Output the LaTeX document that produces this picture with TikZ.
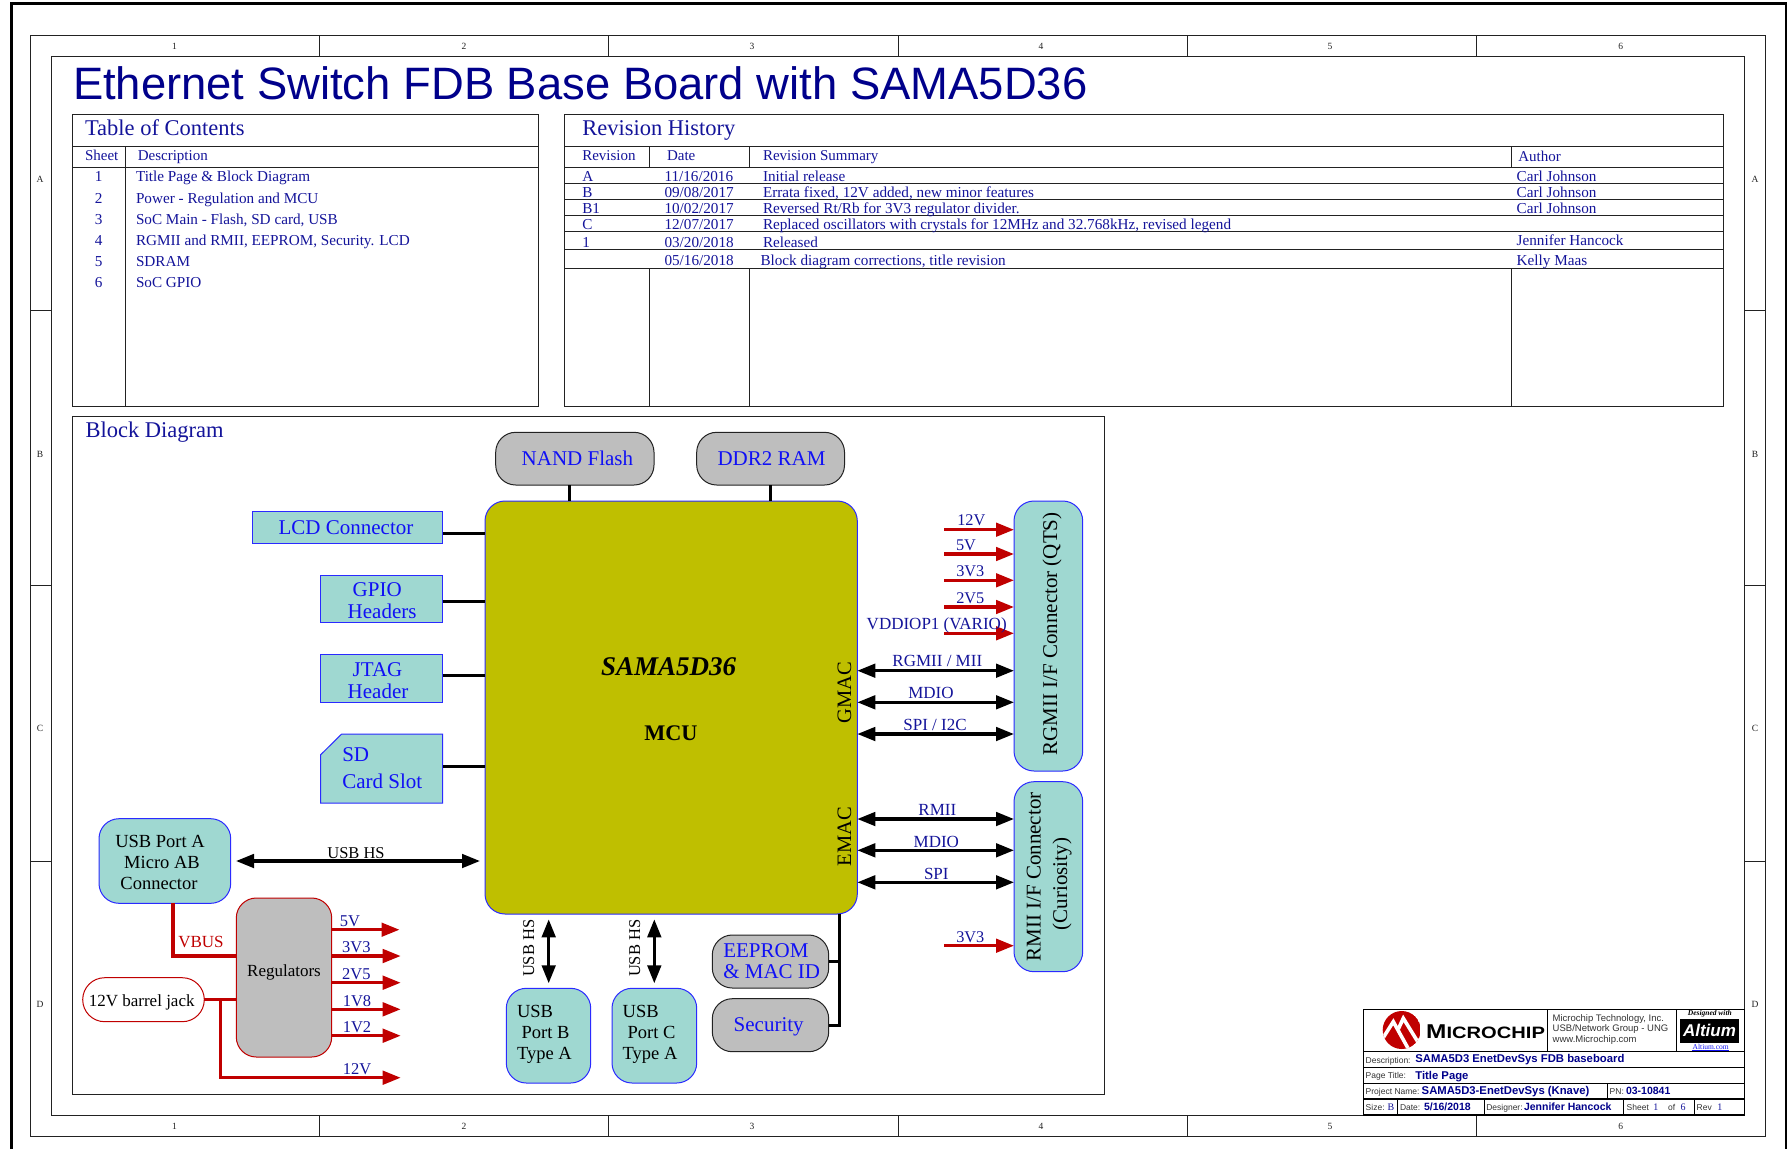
\documentclass[tikz,border=0pt]{standalone}
\usepackage{fontspec}
\setmainfont{Liberation Serif}
\newfontfamily\arialf{Liberation Sans}
\usetikzlibrary{arrows.meta,calc}
\definecolor{navyt}{HTML}{00008B}
\definecolor{tbl}{HTML}{14149A}
\definecolor{bluet}{HTML}{1010F5}
\definecolor{bord}{HTML}{2A2AFF}
\definecolor{teal}{HTML}{9FD8D1}
\definecolor{olive}{HTML}{BFBF00}
\definecolor{gry}{HTML}{BEBEBE}
\definecolor{redl}{HTML}{C00000}
\definecolor{dk}{HTML}{222222}
\definecolor{lbl}{HTML}{333333}
\newcounter{tn}
\newcommand{\fs}[1]{\fontsize{#1}{#1}\selectfont}
\newcommand{\tl}[4][]{\stepcounter{tn}\node[anchor=base west,inner sep=0pt,outer sep=0pt,#1] (t\arabic{tn}) at (#2,#3) {#4};}
\newcommand{\tc}[4][]{\stepcounter{tn}\node[anchor=base,inner sep=0pt,outer sep=0pt,#1] (t\arabic{tn}) at (#2,#3) {#4};}
\newcommand{\tr}[4][]{\stepcounter{tn}\node[anchor=base,rotate=90,inner sep=0pt,outer sep=0pt,#1] (t\arabic{tn}) at (#2,#3) {#4};}
% block by corners: style, name, x1,y1,x2,y2
\newcommand{\blk}[6]{\node[#1,anchor=north west,minimum width={(#5-#3)*1pt},minimum height={(#6-#4)*1pt}] (#2) at (#3,#4) {};}
\tikzset{
  thinl/.style={draw=dk,line width=1pt},
  boxbase/.style={inner sep=0pt,outer sep=0pt,line width=1pt},
  tealr/.style={boxbase,draw=bord,fill=teal,rounded corners=20pt},
  tealq/.style={boxbase,draw=bord,fill=teal},
  greyr/.style={boxbase,draw=dk,fill=gry,rounded corners=20pt},
  regbox/.style={boxbase,draw=redl,fill=gry,rounded corners=20pt},
  jackbox/.style={boxbase,draw=redl,fill=white,rounded corners=22pt},
  mcubox/.style={boxbase,draw=bord,fill=olive,rounded corners=20pt},
  blkl/.style={draw=black,line width=3pt},
  redp/.style={draw=redl,line width=3.2pt},
  pwr/.style={draw=redl,line width=3.2pt,-{Triangle[length=18pt,width=13.5pt]}},
  sig/.style={draw=black,line width=3.2pt,{Triangle[length=18pt,width=13.5pt]}-{Triangle[length=18pt,width=13.5pt]}},
  zn/.style={font=\fs{9.5},text=dk},
  bigt/.style={font=\fs{22.5},text=tbl},
  hdr/.style={font=\fs{15},text=tbl},
  row/.style={font=\fs{15.2},text=tbl},
  bt/.style={font=\fs{21},text=bluet},
  kt/.style={font=\fs{18.5},text=black},
  st/.style={font=\fs{16.3},text=tbl},
  sg/.style={font=\fs{17},text=tbl},
  vt/.style={font=\fs{16.5},text=tbl},
  hs/.style={font=\fs{16.5},text=black},
  rt/.style={font=\fs{21},text=black},
  smalll/.style={font=\arialf\fs{8.5},text=lbl},
  boldl/.style={font=\arialf\bfseries\fs{11.3},text=navyt},
  cot/.style={font=\arialf\fs{9.5},text=lbl},
  sern/.style={font=\fs{10},text=tbl}
}
\begin{document}
\begin{tikzpicture}[x=1pt,y=-1pt]
\useasboundingbox (0,0) rectangle (1787,1149);
\fill[white] (0,0) rectangle (1787,1149);
% sheet frames
\draw[black,line width=3pt] (11,1149) -- (11,3.5) -- (1786,3.5) -- (1786,1149);
\draw[thinl] (30.5,35.5) rectangle (1765,1136);
\draw[thinl] (51,56.5) rectangle (1744,1115);
\foreach \xx in {319,608.5,898,1187,1476}{
  \draw[thinl] (\xx,35.5) -- (\xx,56.5);
  \draw[thinl] (\xx,1115) -- (\xx,1136);
}
\foreach \yy in {310.5,585,861.5}{
  \draw[thinl] (30.5,\yy) -- (51,\yy);
  \draw[thinl] (1744,\yy) -- (1765,\yy);
}
\foreach \xx/\lab in {174.5/1,464/2,752/3,1041/4,1330/5,1620.7/6}{
  \tc[zn]{\xx}{49}{\lab}
  \tc[zn]{\xx}{1129}{\lab}
}
\foreach \yy/\lab in {182.5/A,457/B,731.5/C,1007.5/D}{
  \tc[zn]{40}{\yy}{\lab}
  \tc[zn]{1755}{\yy}{\lab}
}
% title
\tl[font=\arialf\fs{45.4},text=navyt]{73}{99}{Ethernet Switch FDB Base Board with SAMA5D36}
% table of contents
\draw[thinl] (72.3,114.7) rectangle (538,406);
\draw[thinl] (72.3,146.3) -- (538,146.3) (72.3,167.3) -- (538,167.3) (125,146.3) -- (125,406);
\tl[bigt]{85}{135}{Table of Contents}
\tl[hdr]{85}{160.7}{Sheet}
\tl[hdr]{137.8}{160.7}{Description}
\foreach \yy/\nn/\desc in {181.7/1/Title Page \& Block Diagram,203.3/2/Power - Regulation and MCU,224/3/{SoC Main - Flash, SD card, USB},245/4/{RGMII and RMII, EEPROM, Security. LCD},266/5/SDRAM,287.3/6/SoC GPIO}{
  \tc[row]{98.7}{\yy}{\nn}
  \tl[row]{136}{\yy}{\desc}
}
% revision history
\draw[thinl] (564.5,114.7) rectangle (1723,406);
\foreach \yy in {146.3,167.3,183.3,199.3,215.3,231,249,268}{
  \draw[thinl] (564.5,\yy) -- (1723,\yy);
}
\foreach \xx in {649.3,749.3,1511.7}{
  \draw[thinl] (\xx,146.3) -- (\xx,167.3);
  \draw[thinl] (\xx,268) -- (\xx,406);
}
\tl[bigt]{582.3}{135}{Revision History}
\tl[hdr]{582.3}{160.7}{Revision}
\tl[hdr]{667}{160.7}{Date}
\tl[hdr]{763}{160.7}{Revision Summary}
\tl[hdr]{1518.3}{161}{Author}
\foreach \yy/\rv/\dt/\sm in {181.7/A/11\slash 16\slash 2016/Initial release,197.3/B/09\slash 08\slash 2017/{Errata fixed, 12V added, new minor features},213.3/B1/10\slash 02\slash 2017/Reversed Rt\slash Rb for 3V3 regulator divider.,229/C/12\slash 07\slash 2017/{Replaced oscillators with crystals for 12MHz and 32.768kHz, revised legend},247/1/03\slash 20\slash 2018/Released}{
  \tl[row]{582.3}{\yy}{\rv}
  \tl[row]{664.5}{\yy}{\dt}
  \tl[row]{763}{\yy}{\sm}
}
\tl[row]{664.5}{265}{05\slash 16\slash 2018}
\tl[row]{760.5}{265}{Block diagram corrections, title revision}
\foreach \yy/\au in {181/Carl Johnson,197/Carl Johnson,213/Carl Johnson,245/Jennifer Hancock,265/Kelly Maas}{
  \tl[row]{1516.7}{\yy}{\au}
}
% block diagram frame
\draw[thinl] (72.3,416.3) rectangle (1104.4,1094.3);
\tl[bigt]{85.5}{437.5}{Block Diagram}
% blocks
\blk{mcubox}{mcu}{485}{501}{857.3}{914}
\blk{greyr}{nand}{495.7}{432.3}{654}{485}
\blk{greyr}{ddr}{696.7}{432.3}{844.5}{485}
\blk{tealq}{lcd}{252}{511.7}{442.7}{543.3}
\blk{tealq}{gpio}{320.7}{575.3}{442.7}{622.7}
\blk{tealq}{jtag}{320.7}{654.7}{442.7}{702.3}
\draw[bord,line width=1pt,fill=teal] (341.7,734) -- (442.7,734) -- (442.7,803) -- (320.7,803) -- (320.7,754.7) -- cycle;
\coordinate (sd) at (442.7,766);
\blk{tealr}{rgbox}{1014}{501}{1082.7}{771}
\blk{tealr}{rmbox}{1014}{781.7}{1082.7}{971.7}
\blk{tealr}{usba}{99}{818.7}{230.7}{903.3}
\blk{regbox}{reg}{236.3}{898}{331.7}{1057}
\blk{jackbox}{jack}{82.7}{977.7}{204.3}{1021.7}
\blk{tealr}{usbb}{506.3}{988.3}{590.7}{1083}
\blk{tealr}{usbc}{612}{988.3}{696.7}{1083}
\blk{greyr}{eep}{712.3}{935}{828.7}{988}
\blk{greyr}{sec}{712.3}{998.7}{828.7}{1051.7}
% black connectors to MCU
\draw[blkl] (nand.south -| 569.7,0) -- (569.7,0 |- mcu.north);
\draw[blkl] (770.5,0 |- ddr.south) -- (770.5,0 |- mcu.north);
\draw[blkl] (lcd.east |- 0,533) -- (mcu.west |- 0,533);
\draw[blkl] (gpio.east |- 0,601.7) -- (mcu.west |- 0,601.7);
\draw[blkl] (jtag.east |- 0,675.7) -- (mcu.west |- 0,675.7);
\draw[blkl] (sd) -- (mcu.west |- sd);
\draw[blkl] (839.7,0 |- mcu.south) -- (839.7,0 |- sec.east) -- (sec.east);
\draw[blkl] (eep.east) -- (839.7,0 |- eep.east);
% signal arrows
\foreach \yy in {670.7,702.3,734}{
  \draw[sig] (mcu.east |- 0,\yy) -- (rgbox.west |- 0,\yy);
}
\foreach \yy in {819,850.3,882.3}{
  \draw[sig] (mcu.east |- 0,\yy) -- (rmbox.west |- 0,\yy);
}
\draw[sig] (236,861) -- (480,861);
\draw[sig] (548.7,919.3) -- (548.7,983.3);
\draw[sig] (654.3,919.3) -- (654.3,983.3);
% power
\foreach \yy in {529.7,554,580.3,607,633.3}{
  \draw[pwr] (944.3,\yy) -- (rgbox.west |- 0,\yy);
}
\draw[pwr] (944.3,945.7) -- (rmbox.west |- 0,945.7);
\draw[redp] (173,0 |- usba.south) -- (173,956) -- (reg.west |- 0,956);
\draw[redp] (jack.east) -- (reg.west |- jack.east);
\draw[redp] (220.7,999.7) -- (220.7,1077.7) -- (300,1077.7);
\draw[pwr] (300,1077.7) -- (400.7,1077.7);
\draw[pwr] (reg.east |- 0,929.7) -- (399.5,929.7);
\foreach \yy in {956,982.7,1009.3,1035.7}{
  \draw[pwr] (reg.east |- 0,\yy) -- (400.7,\yy);
}
% block texts
\tl[bt]{521.7}{465}{NAND Flash}
\tc[bt]{771.5}{465}{DDR2 RAM}
\tc[bt]{346}{534}{LCD Connector}
\tl[bt]{352.7}{596.7}{GPIO}
\tl[bt]{347.7}{618.3}{Headers}
\tl[bt]{352.7}{676.7}{JTAG}
\tl[bt]{347.7}{698}{Header}
\tl[bt]{342.3}{761}{SD}
\tl[bt]{342.3}{788}{Card Slot}
\tl[font=\bfseries\itshape\fs{27},text=black]{601}{675}{SAMA5D36}
\tl[font=\bfseries\fs{22.3},text=black]{644.3}{740}{MCU}
\tr[font=\fs{20.5},text=black]{851}{692.3}{GMAC}
\tr[font=\fs{20.5},text=black]{851}{836.7}{EMAC}
\tr[rt]{1057}{634}{RGMII I/F Connector (QTS)}
\tr[rt]{1040.7}{877}{RMII I/F Connector}
\tr[rt]{1067}{884}{(Curiosity)}
\tc[kt]{160}{847.3}{USB Port A}
\tc[kt]{162}{868.3}{Micro AB}
\tc[kt]{159}{889.3}{Connector}
\tc[font=\fs{17},text=black]{284}{976.7}{Regulators}
\tc[font=\fs{17},text=black]{141.7}{1006}{12V barrel jack}
\tl[font=\fs{17},text=redl]{178.3}{947.7}{VBUS}
\tl[kt]{517}{1017.3}{USB}
\tl[kt]{521.7}{1038.3}{Port B}
\tl[kt]{517}{1059.3}{Type A}
\tl[kt]{622.7}{1017.3}{USB}
\tl[kt]{627.7}{1038.3}{Port C}
\tl[kt]{622.7}{1059.3}{Type A}
\tl[bt]{723.3}{957.3}{EEPROM}
\tl[bt]{723.3}{978.3}{\& MAC ID}
\tc[bt]{768.7}{1031.5}{Security}
\tc[hs]{356}{858.3}{USB HS}
\tr[hs]{534}{948.3}{USB HS}
\tr[hs]{640}{948.3}{USB HS}
% connector labels
\tc[st]{971.3}{525.7}{12V}
\tc[st]{966}{550.7}{5V}
\tc[st]{970.3}{576.7}{3V3}
\tc[st]{970.3}{603.3}{2V5}
\tc[sg]{936.7}{629.3}{VDDIOP1 (VARIO)}
\tc[sg]{937.3}{666.7}{RGMII / MII}
\tc[sg]{931}{698.3}{MDIO}
\tc[sg]{935}{730.7}{SPI / I2C}
\tc[sg]{937.3}{815}{RMII}
\tc[sg]{936.3}{847}{MDIO}
\tc[sg]{936.3}{879}{SPI}
\tc[st]{970.3}{942}{3V3}
\tc[vt]{350}{926}{5V}
\tc[vt]{356.3}{952.7}{3V3}
\tc[vt]{356.3}{979}{2V5}
\tc[vt]{357}{1006}{1V8}
\tc[vt]{357}{1032.3}{1V2}
\tc[vt]{357}{1074.7}{12V}
% title block
\fill[white] (1363.3,1009.3) rectangle (1744.3,1115);
\draw[black,line width=1.2pt] (1363.3,1009.3) rectangle (1744.3,1115);
\draw[black,line width=1.2pt] (1363.3,1051.7) -- (1744.3,1051.7) (1363.3,1067.3) -- (1744.3,1067.3) (1363.3,1083.3) -- (1744.3,1083.3) (1363.3,1099) -- (1744.3,1099);
\draw[black,line width=1pt] (1547.7,1009.3) -- (1547.7,1051.7) (1676,1009.3) -- (1676,1051.7) (1607,1083.3) -- (1607,1099) (1397.3,1099) -- (1397.3,1115) (1484,1099) -- (1484,1115) (1623.7,1099) -- (1623.7,1115) (1694.3,1099) -- (1694.3,1115);
% logo
\begin{scope}
\clip (1401.7,1030) circle (19);
\fill[redl] (1401.7,1030) circle (19);
\draw[white,line width=3.6pt] (1383,1038) -- (1393.3,1021.7) -- (1409,1050);
\draw[white,line width=3.6pt] (1398.3,1029) -- (1403.3,1018.3) -- (1421,1047);
\end{scope}
\stepcounter{tn}
\node[anchor=base west,inner sep=0pt,text=black,font=\arialf\bfseries] (t\arabic{tn}) at (1426,1038.7) {\scalebox{1.22}[1]{\fs{20}M\fs{16.5}ICROCHIP}};
\tl[cot]{1552.7}{1021}{Microchip Technology, Inc.}
\tl[cot]{1552.7}{1031.7}{USB/Network Group - UNG}
\tl[cot]{1552.7}{1042}{www.Microchip.com}
\tc[font=\bfseries\itshape\fs{7.5},text=black]{1709.8}{1015.7}{Designed with}
\fill[black] (1680,1019) rectangle (1739,1043);
\tc[font=\arialf\bfseries\itshape\fs{17},text=white]{1709.5}{1036.5}{Altium}
\tc[font=\fs{7.5},text=bluet]{1710.7}{1049.3}{Altium.com}
\draw[bluet,line width=0.4pt] (1692,1050.3) -- (1729,1050.3);
\tl[smalll]{1365.7}{1063}{Description:}
\tl[boldl]{1415.3}{1062.7}{SAMA5D3 EnetDevSys FDB baseboard}
\tl[smalll]{1365.7}{1078.7}{Page Title:}
\tl[boldl]{1415.3}{1079}{Title Page}
\tl[smalll]{1365.7}{1094.7}{Project Name:}
\tl[boldl]{1421.7}{1094.7}{SAMA5D3-EnetDevSys (Knave)}
\tl[smalll]{1609.7}{1094.7}{PN:}
\tl[font=\arialf\bfseries\fs{10.5},text=navyt]{1626}{1094.7}{03-10841}
\tl[smalll]{1365.7}{1110.7}{Size:}
\tl[sern]{1387.7}{1110.7}{B}
\tl[smalll]{1400}{1110.7}{Date:}
\tl[font=\arialf\bfseries\fs{10.5},text=navyt]{1424}{1110.7}{5/16/2018}
\tl[smalll]{1486.3}{1110.7}{Designer:}
\tl[font=\arialf\bfseries\fs{10.5},text=navyt]{1524}{1110.7}{Jennifer Hancock}
\tl[smalll]{1626.7}{1110.7}{Sheet}
\tl[sern]{1653.3}{1110.7}{1}
\tl[smalll]{1668}{1110.7}{of}
\tl[sern]{1680.7}{1110.7}{6}
\tl[smalll]{1696.7}{1110.7}{Rev}
\tl[sern]{1717.3}{1110.7}{1}
\end{tikzpicture}
\end{document}
